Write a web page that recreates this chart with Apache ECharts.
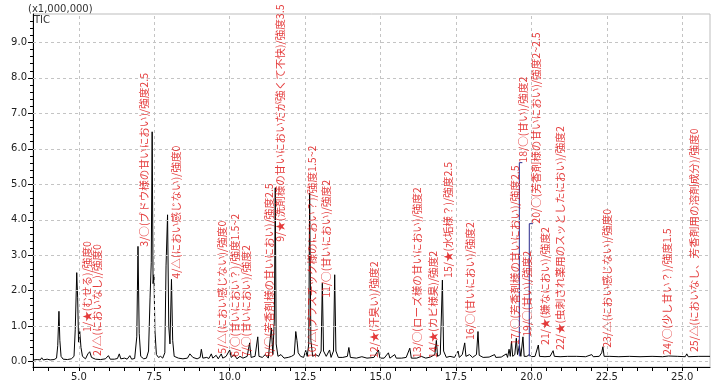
<!DOCTYPE html>
<html><head><meta charset="utf-8">
<script src="https://cdn.jsdelivr.net/npm/echarts@6/dist/echarts.min.js"></script>
<style>html,body{margin:0;padding:0;background:#fff}#c{width:721px;height:386px}</style>
</head><body><div id="c"></div>
<script>
// Retention time (min) and TIC intensity (x1,000,000)
const rt = [3.50,3.62,3.72,3.77,3.82,3.95,4.05,4.18,4.26,4.30,4.34,4.37,4.41,4.48,4.62,4.75,4.84,4.88,4.93,4.96,4.99,5.03,5.07,5.12,5.22,5.30,5.36,5.42,5.55,5.72,5.88,5.98,6.04,6.18,6.28,6.34,6.39,6.52,6.60,6.69,6.75,6.85,6.92,6.96,7.00,7.05,7.15,7.24,7.31,7.36,7.40,7.43,7.46,7.49,7.52,7.57,7.64,7.71,7.78,7.85,7.89,7.94,7.98,8.02,8.07,8.11,8.16,8.30,8.45,8.60,8.68,8.73,8.78,8.92,9.02,9.06,9.11,9.24,9.31,9.39,9.44,9.55,9.62,9.72,9.77,9.88,9.94,10.00,10.05,10.15,10.24,10.34,10.44,10.58,10.66,10.71,10.84,10.93,10.97,11.08,11.18,11.28,11.38,11.43,11.48,11.51,11.54,11.60,11.70,11.80,11.94,12.05,12.14,12.19,12.23,12.27,12.35,12.45,12.52,12.57,12.62,12.65,12.69,12.75,12.85,12.95,13.03,13.07,13.11,13.20,13.31,13.36,13.44,13.48,13.52,13.60,13.75,13.90,13.95,14.00,14.20,14.38,14.55,14.78,14.93,14.98,15.12,15.26,15.31,15.47,15.52,15.70,15.85,15.97,16.02,16.20,16.35,16.50,16.65,16.80,16.85,16.89,16.98,17.05,17.09,17.18,17.30,17.45,17.57,17.61,17.71,17.79,17.83,17.95,18.05,18.18,18.23,18.27,18.40,18.60,18.78,18.82,19.00,19.17,19.21,19.26,19.30,19.34,19.38,19.45,19.50,19.54,19.60,19.65,19.72,19.76,19.85,19.93,20.00,20.12,20.23,20.27,20.45,20.62,20.72,20.76,20.95,21.20,21.50,21.80,22.00,22.05,22.25,22.33,22.37,22.41,22.60,22.90,23.25,23.60,24.00,24.35,24.55,24.85,25.10,25.15,25.20,25.55,25.92];
const tic = [0.05,0.06,0.05,0.11,0.05,0.07,0.05,0.06,0.10,0.45,1.42,0.60,0.15,0.07,0.06,0.08,0.15,0.90,2.51,1.80,0.55,0.85,0.40,0.15,0.08,0.22,0.28,0.12,0.07,0.06,0.08,0.17,0.07,0.07,0.09,0.22,0.08,0.10,0.07,0.17,0.07,0.09,0.70,3.25,0.80,0.15,0.08,0.10,0.30,1.80,2.80,6.48,2.20,2.45,0.90,0.20,0.12,0.15,0.10,0.25,2.70,4.14,1.00,0.50,2.32,0.60,0.15,0.10,0.08,0.10,0.22,0.27,0.12,0.08,0.12,0.35,0.10,0.12,0.09,0.22,0.10,0.18,0.08,0.22,0.10,0.15,0.10,0.33,0.12,0.20,0.08,0.15,0.10,0.15,0.53,0.12,0.15,0.70,0.15,0.12,0.20,0.10,0.95,0.20,1.20,4.90,0.50,0.15,0.20,0.10,0.12,0.15,0.20,0.85,0.60,0.25,0.15,0.12,0.32,0.15,0.50,4.75,0.60,0.15,0.20,0.15,0.30,2.21,0.30,0.15,0.33,0.12,0.30,2.45,0.30,0.12,0.12,0.15,0.40,0.12,0.10,0.14,0.10,0.12,0.33,0.10,0.10,0.25,0.10,0.20,0.10,0.10,0.12,0.38,0.10,0.10,0.15,0.10,0.13,0.20,0.60,0.15,0.20,2.30,0.30,0.12,0.15,0.12,0.30,0.12,0.20,0.53,0.15,0.20,0.12,0.20,0.85,0.18,0.12,0.13,0.20,0.12,0.13,0.22,0.12,0.35,0.15,0.57,0.15,0.20,0.66,0.20,0.45,0.15,0.70,0.15,0.15,0.20,0.14,0.15,0.47,0.15,0.14,0.15,0.31,0.15,0.14,0.15,0.15,0.14,0.20,0.14,0.15,0.25,0.42,0.15,0.15,0.14,0.15,0.14,0.15,0.14,0.16,0.15,0.14,0.22,0.14,0.15,0.15];

const xLabelValues = [5.0,7.5,10.0,12.5,15.0,17.5,20.0,22.5,25.0];
const yLabelValues = [0,1,2,3,4,5,6,7,8,9];

// Odour annotations: text, retention time of the column, intensity at which the text starts
const annText = [
 '1/★(むせる)/強度0',
 '2/△(においなし)/強度0',
 '3/○(ブドウ様の甘いにおい)/強度2.5',
 '4/△(におい感じない)/強度0',
 '5/△(におい感じない)/強度0',
 '6/○(甘いにおい？)/強度1.5~2',
 '7/○(甘いにおい)/強度2',
 '8/○(芳香剤様の甘いにおい)/強度2.5',
 '9/★(洗剤様の甘いにおいだが強くて不快)/強度3.5',
 '10/△(プラスチック様のにおい？)/強度1.5~2',
 '11/○(甘いにおい)/強度2',
 '12/★(汗臭い)/強度2',
 '13/○(ローズ様の甘いにおい)/強度2',
 '14/★(カビ様臭)/強度2',
 '15/★(水垢様？)/強度2.5',
 '16/○(甘いにおい)/強度2',
 '17/○(芳香剤様の甘いにおい)/強度2.5',
 '18/○(甘い)/強度2',
 '19/○(甘い)/強度2',
 '20/○(芳香剤様の甘いにおい)/強度2~2.5',
 '21/★(嫌なにおい)/強度2',
 '22/★(虫刺され薬用のスッとしたにおい)/強度2',
 '23/△(におい感じない)/強度0',
 '24/○(少し甘い？)/強度1.5',
 '25/△(においなし、芳香剤用の溶剤成分)/強度0'
];
const annRt   = [5.26,5.59,7.15,8.21,9.74,10.17,10.53,11.30,11.66,12.72,13.19,14.78,16.21,16.74,17.24,17.97,19.44,19.73,19.86,20.16,20.46,20.96,22.51,24.50,25.40];
const annBase = [0.84,0.16,3.24,2.34,0.22,0.13,0.13,0.13,3.38,0.10,1.80,0.10,0.10,0.10,2.36,0.61,0.47,5.61,0.70,3.89,0.47,0.33,0.39,0.19,0.27];

// Leader lines from peak to label (labels 18 and 20)
const leaderRt    = [19.60, 19.93];
const leaderFloor = [0.15, 0.15];
const leaderTop   = [5.61, 3.89];
const leaderEnd   = [19.70, 20.05];

const X_MIN = 3.48, X_MAX = 25.92, Y_MIN = -0.15, Y_MAX = 9.8;
const xTicks = []; for (let v = 3.5; v <= 25.51; v += 0.5) xTicks.push(+v.toFixed(2));
const yMinor = []; for (let v = 0; v <= 9.61; v += 0.2) yMinor.push(+v.toFixed(2));

const RED = '#dd0a0a';
const chart = echarts.init(document.getElementById('c'), null, {renderer: 'canvas'});

const series = [];
series.push({
  type: 'line', data: [], silent: true, z: 1,
  markLine: {
    silent: true, symbol: 'none', animation: false,
    label: {show: false},
    lineStyle: {type: [3, 3], color: '#c4c4c4', width: 1},
    data: xLabelValues.map(v => ({xAxis: v})).concat(yLabelValues.map(v => ({yAxis: v})))
  }
});
series.push({
  type: 'line', z: 3, symbol: 'none', showSymbol: false,
  lineStyle: {color: '#000', width: 1},
  data: rt.map((t, i) => [t, tic[i]])
});
leaderRt.forEach((t, i) => {
  series.push({
    type: 'line', z: 4, symbol: 'none', showSymbol: false,
    lineStyle: {color: '#2a2a8c', width: 1},
    data: [[t, leaderFloor[i]], [t, leaderTop[i]], [leaderEnd[i], leaderTop[i]]]
  });
});
series.push({
  type: 'scatter', z: 5, symbolSize: 0,
  data: annRt.map((t, i) => [t, annBase[i]]),
  label: {
    show: true, position: 'inside', rotate: 90, align: 'left', verticalAlign: 'middle',
    color: RED, fontSize: 10.6, fontFamily: '"Noto Sans CJK JP", sans-serif',
    formatter: p => annText[p.dataIndex]
  }
});

chart.setOption({
  animation: false,
  backgroundColor: '#fff',
  grid: {left: 33, right: 11, top: 14, bottom: 19, show: true, borderColor: '#bdbdbd', borderWidth: 1},
  graphic: [
    {type: 'text', left: 28, top: 4, style: {text: '(x1,000,000)', fontSize: 10, fill: '#333', fontFamily: 'DejaVu Sans'}},
    {type: 'text', left: 34, top: 15, style: {text: 'TIC', fontSize: 10, fill: '#333', fontFamily: 'DejaVu Sans'}}
  ],
  xAxis: {
    type: 'value', min: X_MIN, max: X_MAX,
    axisLine: {onZero: false, lineStyle: {color: '#000', width: 1}},
    axisTick: {customValues: xTicks, length: 4, lineStyle: {color: '#000'}},
    axisLabel: {customValues: xLabelValues, formatter: v => v.toFixed(1), color: '#222', fontSize: 10, margin: 5, fontFamily: 'DejaVu Sans'},
    splitLine: {show: false}
  },
  yAxis: [{
    type: 'value', min: Y_MIN, max: Y_MAX,
    axisLine: {show: true, onZero: false, lineStyle: {color: '#000', width: 1}},
    axisTick: {show: true, customValues: yMinor, length: 3, lineStyle: {color: '#000'}},
    axisLabel: {customValues: yLabelValues, formatter: v => v.toFixed(1), color: '#222', fontSize: 10, margin: 6, fontFamily: 'DejaVu Sans'},
    splitLine: {show: false}
  }, {
    type: 'value', min: Y_MIN, max: Y_MAX, position: 'left',
    axisLine: {show: false},
    axisTick: {show: true, customValues: yLabelValues, length: 5, lineStyle: {color: '#000'}},
    axisLabel: {show: false},
    splitLine: {show: false}
  }],
  series: series
});
</script></body></html>
